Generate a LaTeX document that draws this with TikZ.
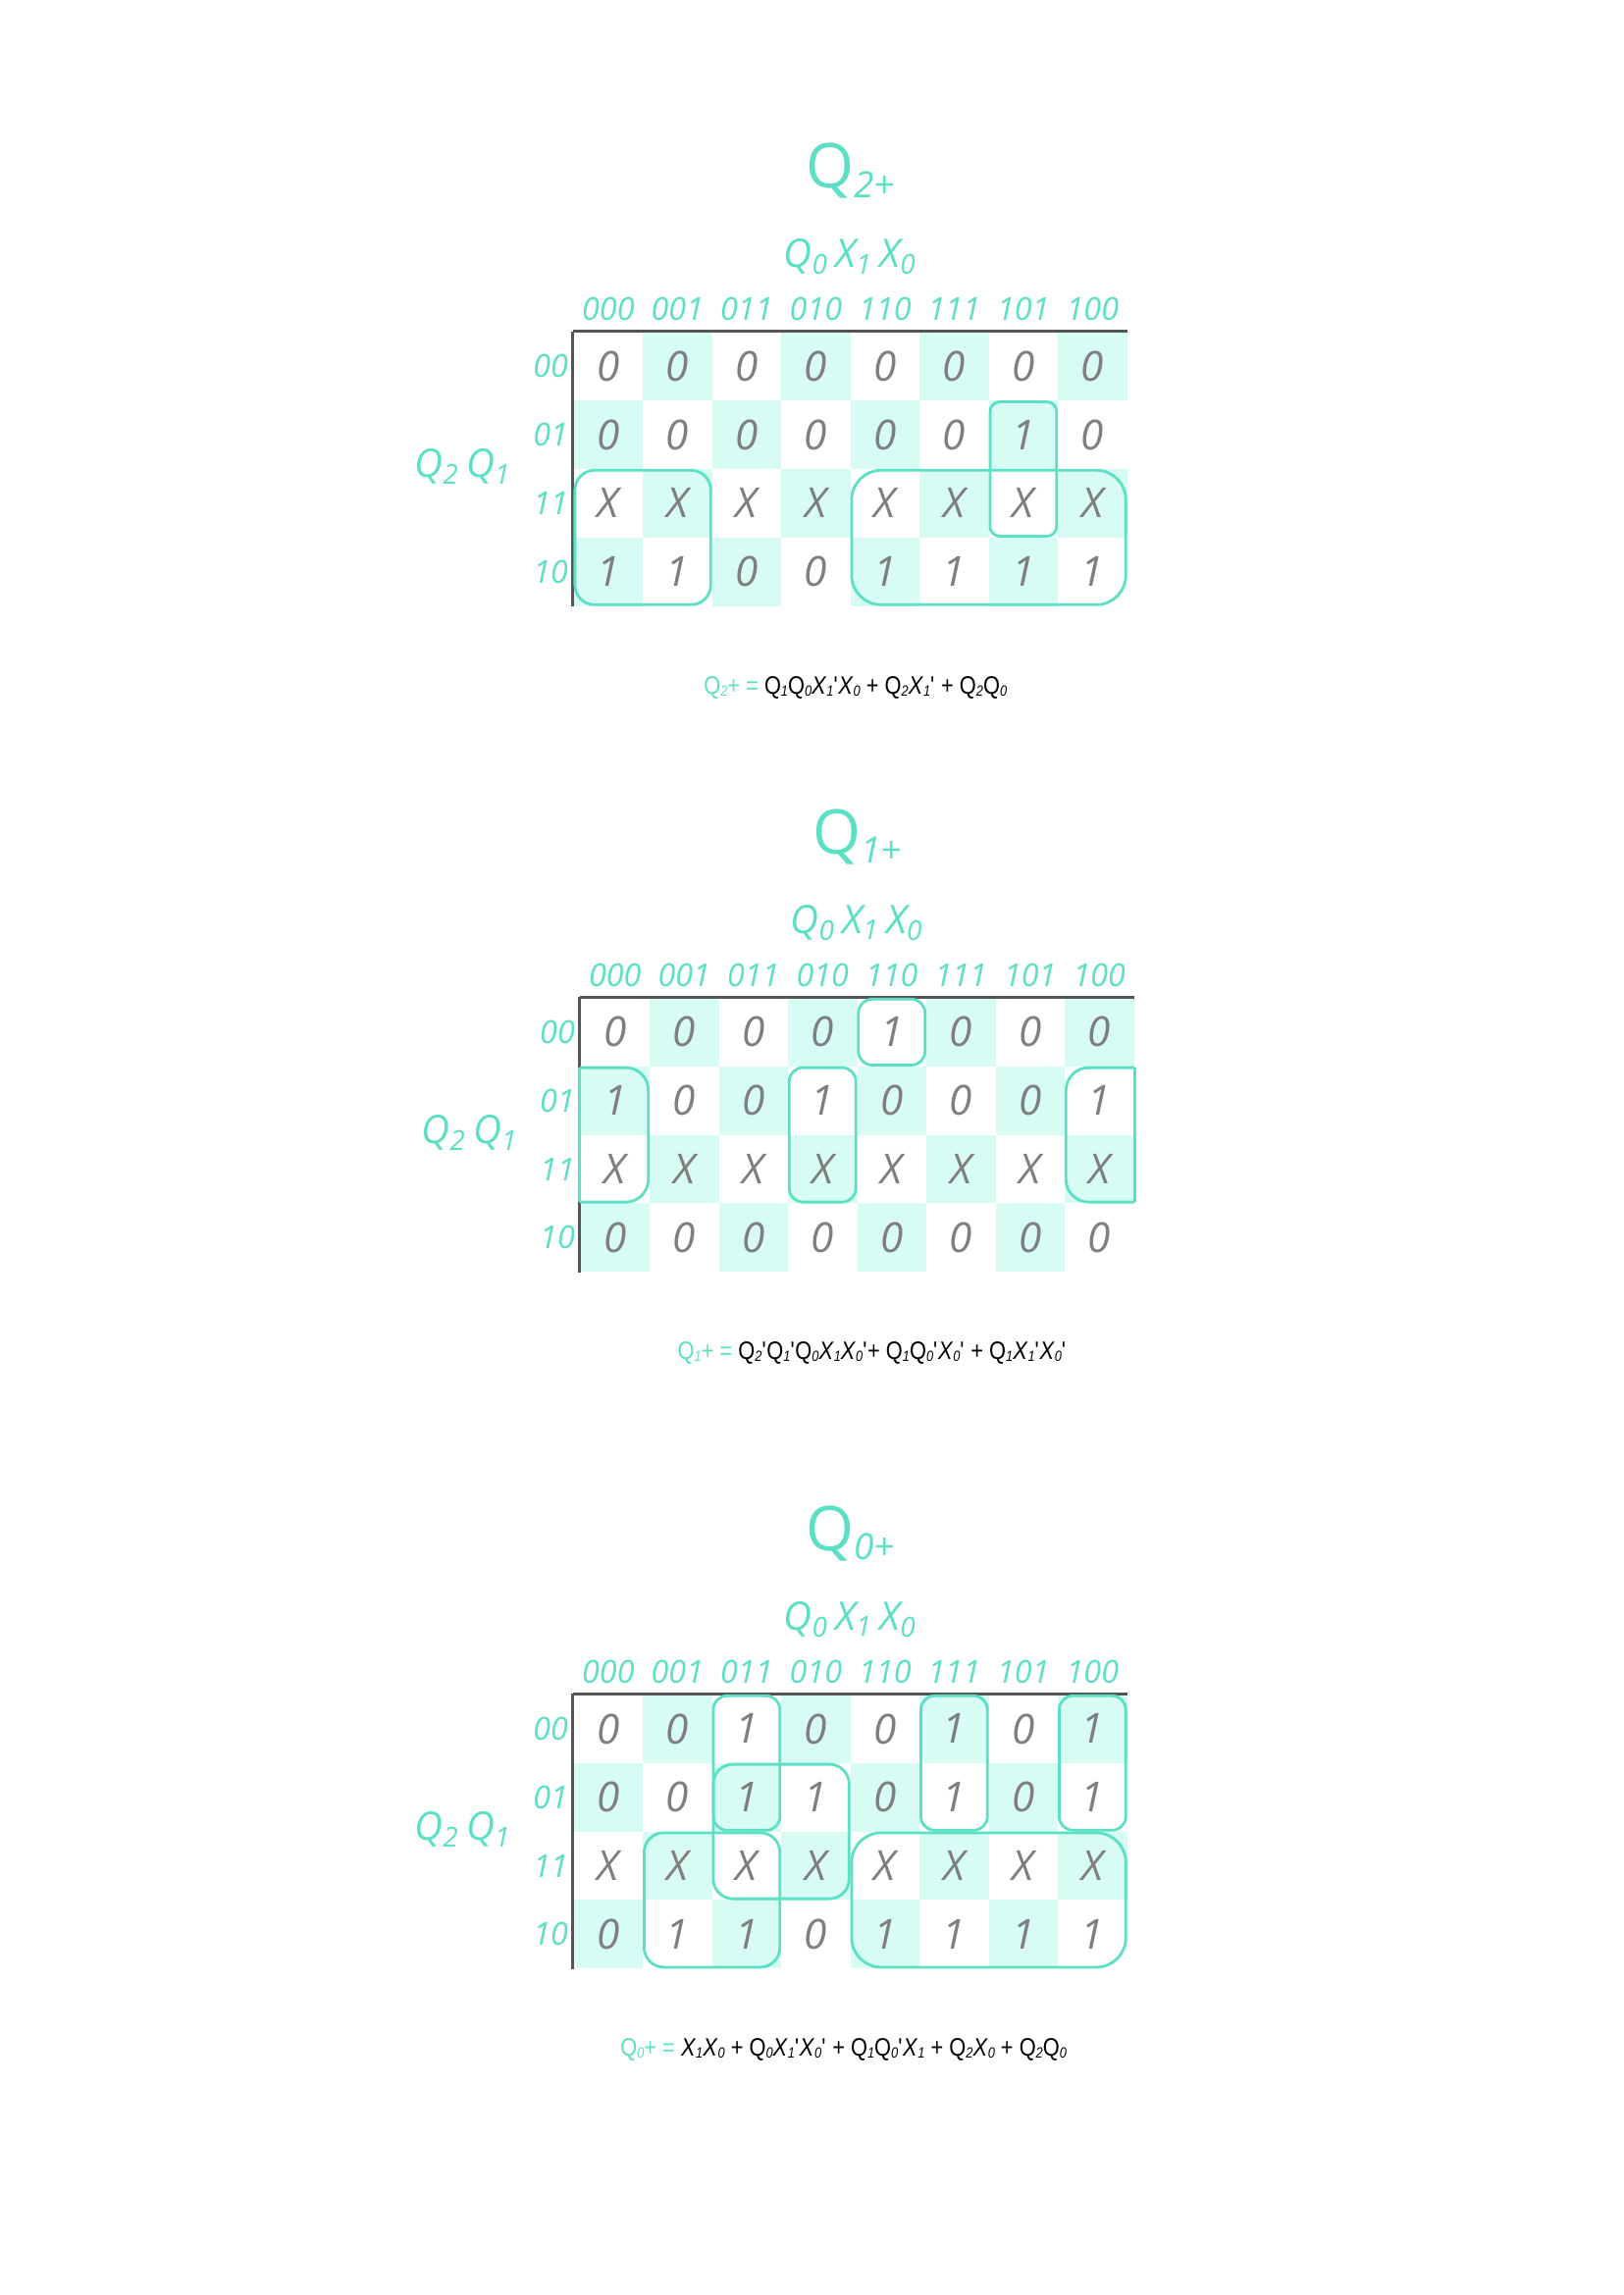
\documentclass[tikz,border=0pt]{standalone}
\usepackage{fontspec}
\setmainfont{Open Sans}
\newfontfamily\formfont{Liberation Sans}[FakeStretch=0.85]
\usetikzlibrary{fit}

\definecolor{kteal}{HTML}{5CE0C5}
\definecolor{kmint}{HTML}{D6FCF3}
\definecolor{kgrey}{HTML}{7F7F7F}
\definecolor{kaxis}{HTML}{555555}

\newcommand{\kcell}{\fontsize{12pt}{14pt}\selectfont\itshape}
\newcommand{\klabel}{\fontsize{9.2pt}{11pt}\selectfont\itshape}
\newcommand{\kvar}{\fontsize{11.4pt}{13pt}\selectfont\itshape}
\newcommand{\ktitle}{\fontsize{17.9pt}{21pt}\selectfont}
\newcommand{\kform}{\formfont\fontsize{7.3pt}{9pt}\selectfont}
\newcommand{\tsub}[1]{\raisebox{-2.8pt}{\fontsize{10.5pt}{12pt}\selectfont\itshape #1}}
\newcommand{\fs}[1]{\raisebox{-0.7pt}{\fontsize{4.3pt}{5pt}\selectfont\itshape #1}}
\newcommand{\pr}{\textquotesingle}

\begin{document}
\begin{tikzpicture}[x=0.1mm, y=-0.1mm]
    \tikzstyle{cell}=[minimum width=7.05mm, minimum height=6.98mm, inner sep=0pt, text=kgrey, font=\kcell]
    \tikzstyle{collabel}=[text=kteal, font=\klabel, anchor=base, inner sep=0pt]
    \tikzstyle{rowlabel}=[text=kteal, font=\klabel, anchor=east, inner sep=0pt]
    \tikzstyle{varlabel}=[text=kteal, font=\kvar, anchor=base, inner sep=0pt]
    \tikzstyle{maptitle}=[text=kteal, font=\ktitle, anchor=base, inner sep=0pt]
    \tikzstyle{mapaxis}=[draw=kaxis, line width=0.85pt]
    \tikzstyle{grp}=[draw=kteal, line width=0.8pt, inner sep=-0.2mm]
    \tikzstyle{formula}=[font=\kform, anchor=base west, inner sep=0pt]

    \fill[white] (0,0) rectangle (1654,2339);
    \useasboundingbox (0,0) rectangle (1654,2339);

    % Map of Q2+
    \begin{scope}[shift={(584.6,338.4)}]
    \node[maptitle] (a-title) at (282,-147) {Q\tsub{2+}};
    \node[varlabel] (a-top) at (282,-66) {Q\textsubscript{0}\,X\textsubscript{1}\,X\textsubscript{0}};
    \node[varlabel] (a-side) at (-112.6,148.5) {Q\textsubscript{2}\,Q\textsubscript{1}};
    \foreach \lab [count=\c from 0] in {000,001,011,010,110,111,101,100}
        \node[collabel] (a-col-\c) at ({70.5*\c+35.25},-12) {\lab};
    \foreach \lab [count=\r from 0] in {00,01,11,10}
        \node[rowlabel] (a-row-\r) at (-5,{69.8*\r+34.9}) {\lab};
    \foreach \row [count=\r from 0] in {{0,0,0,0,0,0,0,0},{0,0,0,0,0,0,1,0},{X,X,X,X,X,X,X,X},{1,1,0,0,1,1,1,1}}
        \foreach \v [count=\c from 0] in \row {
            \pgfmathtruncatemacro\odd{mod(\r+\c,2)}
            \ifnum\odd=1 \def\cellfill{kmint}\else\def\cellfill{none}\fi
            \node[cell, fill=\cellfill] (a-\r-\c) at ({70.5*\c+35.25},{69.8*\r+34.9}) {\v};
        }
    \draw[mapaxis] (a-0-0.north west) -- (a-0-7.north east);
    \draw[mapaxis] (a-0-0.north west) -- (a-3-0.south west);
    % groups
    \node[grp, rounded corners=2mm, fit=(a-2-0)(a-3-1)] (a-g1) {};
    \node[grp, rounded corners=3mm, fit=(a-2-4)(a-3-7)] (a-g2) {};
    \node[grp, rounded corners=1mm, fit=(a-1-6)(a-2-6)] (a-g3) {};
    \node[formula] (a-eq) at (132,369) {\textcolor{kteal}{Q\fs{2}+ =} Q\fs{1}Q\fs{0}\textit{X}\fs{1}\pr\textit{X}\fs{0} + Q\fs{2}\textit{X}\fs{1}\pr{} + Q\fs{2}Q\fs{0}};
    \end{scope}

    % Map of Q1+
    \begin{scope}[shift={(591.5,1017)}]
    \node[maptitle] (b-title) at (282,-147) {Q\tsub{1+}};
    \node[varlabel] (b-top) at (282,-66) {Q\textsubscript{0}\,X\textsubscript{1}\,X\textsubscript{0}};
    \node[varlabel] (b-side) at (-112.6,148.5) {Q\textsubscript{2}\,Q\textsubscript{1}};
    \foreach \lab [count=\c from 0] in {000,001,011,010,110,111,101,100}
        \node[collabel] (b-col-\c) at ({70.5*\c+35.25},-12) {\lab};
    \foreach \lab [count=\r from 0] in {00,01,11,10}
        \node[rowlabel] (b-row-\r) at (-5,{69.8*\r+34.9}) {\lab};
    \foreach \row [count=\r from 0] in {{0,0,0,0,1,0,0,0},{1,0,0,1,0,0,0,1},{X,X,X,X,X,X,X,X},{0,0,0,0,0,0,0,0}}
        \foreach \v [count=\c from 0] in \row {
            \pgfmathtruncatemacro\odd{mod(\r+\c,2)}
            \ifnum\odd=1 \def\cellfill{kmint}\else\def\cellfill{none}\fi
            \node[cell, fill=\cellfill] (b-\r-\c) at ({70.5*\c+35.25},{69.8*\r+34.9}) {\v};
        }
    \draw[mapaxis] (b-0-0.north west) -- (b-0-7.north east);
    \draw[mapaxis] (b-0-0.north west) -- (b-3-0.south west);
    % groups
    \node[grp, rounded corners=1.4mm, fit=(b-0-4)] (b-g1) {};
    \node[grp, rounded corners=1.4mm, fit=(b-1-3)(b-2-3)] (b-g2) {};
    \draw[grp, rounded corners=2.3mm] ([yshift=-0.2mm]b-1-0.north west) -| ([xshift=-0.2mm,yshift=0.2mm]b-2-0.south east) -- ([yshift=0.2mm]b-2-0.south west);
    \draw[grp] ([yshift=0.2mm]b-2-0.south west) -- ([yshift=-0.2mm]b-1-0.north west);
    \draw[grp, rounded corners=2.3mm] ([yshift=-0.2mm]b-1-7.north east) -| ([xshift=0.2mm,yshift=0.2mm]b-2-7.south west) -- ([yshift=0.2mm]b-2-7.south east);
    \draw[grp] ([yshift=0.2mm]b-2-7.south east) -- ([yshift=-0.2mm]b-1-7.north east);
    \node[formula] (b-eq) at (98.5,368) {\textcolor{kteal}{Q\fs{1}+ =} Q\fs{2}\pr Q\fs{1}\pr Q\fs{0}\textit{X}\fs{1}\textit{X}\fs{0}\pr+ Q\fs{1}Q\fs{0}\pr\textit{X}\fs{0}\pr{} + Q\fs{1}\textit{X}\fs{1}\pr\textit{X}\fs{0}\pr};
    \end{scope}

    % Map of Q0+
    \begin{scope}[shift={(584.6,1727)}]
    \node[maptitle] (c-title) at (282,-147) {Q\tsub{0+}};
    \node[varlabel] (c-top) at (282,-66) {Q\textsubscript{0}\,X\textsubscript{1}\,X\textsubscript{0}};
    \node[varlabel] (c-side) at (-112.6,148.5) {Q\textsubscript{2}\,Q\textsubscript{1}};
    \foreach \lab [count=\c from 0] in {000,001,011,010,110,111,101,100}
        \node[collabel] (c-col-\c) at ({70.5*\c+35.25},-12) {\lab};
    \foreach \lab [count=\r from 0] in {00,01,11,10}
        \node[rowlabel] (c-row-\r) at (-5,{69.8*\r+34.9}) {\lab};
    \foreach \row [count=\r from 0] in {{0,0,1,0,0,1,0,1},{0,0,1,1,0,1,0,1},{X,X,X,X,X,X,X,X},{0,1,1,0,1,1,1,1}}
        \foreach \v [count=\c from 0] in \row {
            \pgfmathtruncatemacro\odd{mod(\r+\c,2)}
            \ifnum\odd=1 \def\cellfill{kmint}\else\def\cellfill{none}\fi
            \node[cell, fill=\cellfill] (c-\r-\c) at ({70.5*\c+35.25},{69.8*\r+34.9}) {\v};
        }
    \draw[mapaxis] (c-0-0.north west) -- (c-0-7.north east);
    \draw[mapaxis] (c-0-0.north west) -- (c-3-0.south west);
    % groups
    \node[grp, rounded corners=1.4mm, fit=(c-0-2)(c-1-2)] (c-g1) {};
    \node[grp, rounded corners=2mm, fit=(c-1-2)(c-2-3)] (c-g2) {};
    \node[grp, rounded corners=2mm, fit=(c-2-1)(c-3-2)] (c-g3) {};
    \node[grp, rounded corners=1.4mm, fit=(c-0-5)(c-1-5)] (c-g4) {};
    \node[grp, rounded corners=1.4mm, fit=(c-0-7)(c-1-7)] (c-g5) {};
    \node[grp, rounded corners=3mm, fit=(c-2-4)(c-3-7)] (c-g6) {};
    \node[formula] (c-eq) at (47,368) {\textcolor{kteal}{Q\fs{0}+ =} \textit{X}\fs{1}\textit{X}\fs{0} + Q\fs{0}\textit{X}\fs{1}\pr\textit{X}\fs{0}\pr{} + Q\fs{1}Q\fs{0}\pr\textit{X}\fs{1} + Q\fs{2}\textit{X}\fs{0} + Q\fs{2}Q\fs{0}};
    \end{scope}

\end{tikzpicture}
\end{document}
